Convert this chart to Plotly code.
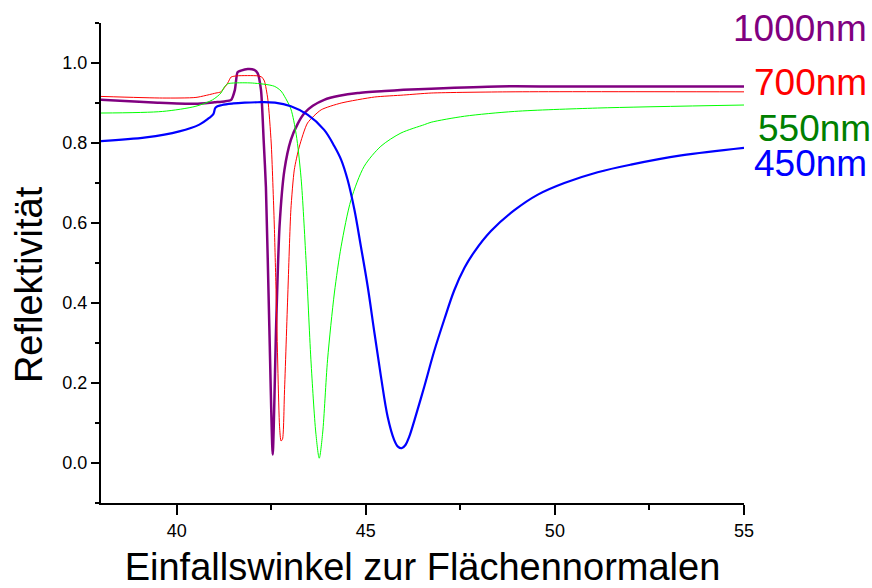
import plotly.graph_objects as go

# Reflectivity vs. angle of incidence for four wavelengths
angle_1000 = [38.0, 38.5, 39.5, 40.5, 41.0, 41.26, 41.44, 41.54, 41.61, 41.70, 41.88, 42.05,
              42.14, 42.23, 42.30, 42.36, 42.45, 42.54, 42.63, 42.72, 42.85, 43.02, 43.2,
              43.38, 43.6, 43.9, 44.3, 44.79, 45.5, 46.0, 46.73, 48.49, 50.0, 52.0, 55.0]
refl_1000 = [0.908, 0.906, 0.901, 0.898, 0.902, 0.904, 0.908, 0.933, 0.977, 0.981, 0.985, 0.983,
             0.975, 0.933, 0.808, 0.69, 0.342, 0.021, 0.342, 0.592, 0.733, 0.808, 0.848,
             0.875, 0.893, 0.908, 0.918, 0.925, 0.93, 0.933, 0.936, 0.9415, 0.9415, 0.9415, 0.9415]

angle_700 = [38.0, 39.63, 40.51, 41.04, 41.17, 41.35, 41.44, 41.6, 42.14, 42.25, 42.32, 42.41,
             42.5, 42.58, 42.63, 42.72, 42.76, 42.80, 42.85, 42.94, 43.02, 43.11, 43.24,
             43.46, 43.82, 44.35, 45.23, 46.0, 46.73, 48.84, 55.0]
refl_700 = [0.9165, 0.9125, 0.914, 0.925, 0.928, 0.95, 0.965, 0.968, 0.968, 0.965, 0.955, 0.91,
            0.80, 0.60, 0.425, 0.092, 0.055, 0.06, 0.175, 0.425, 0.633, 0.733, 0.79,
            0.85, 0.883, 0.90, 0.915, 0.92, 0.925, 0.928, 0.928]

angle_550 = [38.0, 39.63, 40.51, 40.95, 41.17, 41.26, 41.35, 41.5, 42.0, 42.58, 42.76, 42.85,
             43.02, 43.16, 43.29, 43.42, 43.55, 43.68, 43.77, 43.86, 43.99, 44.17, 44.35,
             44.61, 44.96, 45.40, 45.93, 46.55, 46.73, 47.61, 48.93, 51.13, 55.0]
refl_550 = [0.875, 0.879, 0.892, 0.908, 0.925, 0.94, 0.948, 0.95, 0.95, 0.942, 0.93, 0.917,
            0.885, 0.822, 0.712, 0.508, 0.258, 0.075, 0.012, 0.075, 0.258, 0.425, 0.542,
            0.658, 0.742, 0.792, 0.825, 0.846, 0.852, 0.867, 0.879, 0.8875, 0.895]

angle_450 = [38.0, 39.19, 40.07, 40.6, 40.85, 40.97, 41.03, 41.2, 41.5, 41.8, 42.14, 42.6,
             43.02, 43.46, 43.90, 44.17, 44.35, 44.52, 44.70, 44.87, 45.05, 45.23, 45.40,
             45.58, 45.75, 45.85, 45.95, 46.05, 46.15, 46.29, 46.55, 46.81, 47.08, 47.34,
             47.61, 47.87, 48.31, 48.93, 49.55, 50.25, 51.13, 52.01, 53.34, 55.0]
refl_450 = [0.805, 0.814, 0.829, 0.846, 0.862, 0.872, 0.889, 0.895, 0.899, 0.901, 0.902, 0.901,
            0.892, 0.871, 0.833, 0.792, 0.758, 0.708, 0.633, 0.542, 0.442, 0.325, 0.217,
            0.115, 0.058, 0.041, 0.037, 0.045, 0.066, 0.108, 0.192, 0.28, 0.36, 0.432,
            0.488, 0.528, 0.58, 0.632, 0.671, 0.70, 0.727, 0.746, 0.769, 0.788]

labels = ["1000nm", "700nm", "550nm", "450nm"]
label_colors = ["#800080", "#ff0000", "#008000", "#0000ff"]
label_levels = [1.088, 0.953, 0.838, 0.749]
label_right = [1.195, 1.195, 1.201, 1.195]

FONT = "Liberation Sans, Arial, sans-serif"

fig = go.Figure()
series = [
    (angle_1000, refl_1000, "#800080", 2.5, 0.6),
    (angle_700, refl_700, "#ff0000", 1.0, 0.6),
    (angle_550, refl_550, "#00ff00", 1.0, 0.8),
    (angle_450, refl_450, "#0000ff", 2.2, 1.0),
]
for (xs, ys, col, w, sm), name in zip(series, labels):
    fig.add_trace(go.Scatter(x=xs, y=ys, mode="lines", name=name,
                             line=dict(color=col, width=w, shape="spline", smoothing=sm)))

for text, col, lvl, xr in zip(labels, label_colors, label_levels, label_right):
    fig.add_annotation(text=text, xref="paper", x=xr, xanchor="right",
                       yref="y", y=lvl, yanchor="middle", showarrow=False,
                       height=30, valign="middle",
                       font=dict(family=FONT, size=37, color=col))

# y-axis title placed as a rotated annotation
fig.add_annotation(text="Reflektivität", textangle=-90, xref="paper", x=-0.112,
                   xanchor="center", yref="paper", y=0.456, yanchor="middle",
                   showarrow=False, font=dict(family=FONT, size=38, color="black"))

fig.update_layout(
    width=872, height=588,
    margin=dict(l=101, r=128, t=23, b=85),
    paper_bgcolor="white", plot_bgcolor="white",
    showlegend=False,
    font=dict(family=FONT, color="black"),
)
fig.update_xaxes(
    range=[38, 55], tick0=40, dtick=5, showgrid=False, zeroline=False,
    showline=True, linecolor="black", linewidth=2, automargin=False,
    ticks="outside", ticklen=10, tickwidth=1.5, tickcolor="black",
    minor=dict(dtick=2.5, tick0=40, ticks="outside", ticklen=5, tickwidth=1.5, tickcolor="black"),
    tickfont=dict(family=FONT, size=18),
    title=dict(text="Einfallswinkel zur Flächennormalen", font=dict(family=FONT, size=38), standoff=14),
)
fig.update_yaxes(
    range=[-0.1, 1.1001], tick0=0, dtick=0.2, tickformat=".1f", showgrid=False, zeroline=False,
    showline=True, linecolor="black", linewidth=2, automargin=False,
    ticks="outside", ticklen=8, tickwidth=1.5, tickcolor="black",
    minor=dict(dtick=0.1, tick0=0, ticks="outside", ticklen=4, tickwidth=1.5, tickcolor="black"),
    tickfont=dict(family=FONT, size=18),
)

fig.write_html("out.html")
